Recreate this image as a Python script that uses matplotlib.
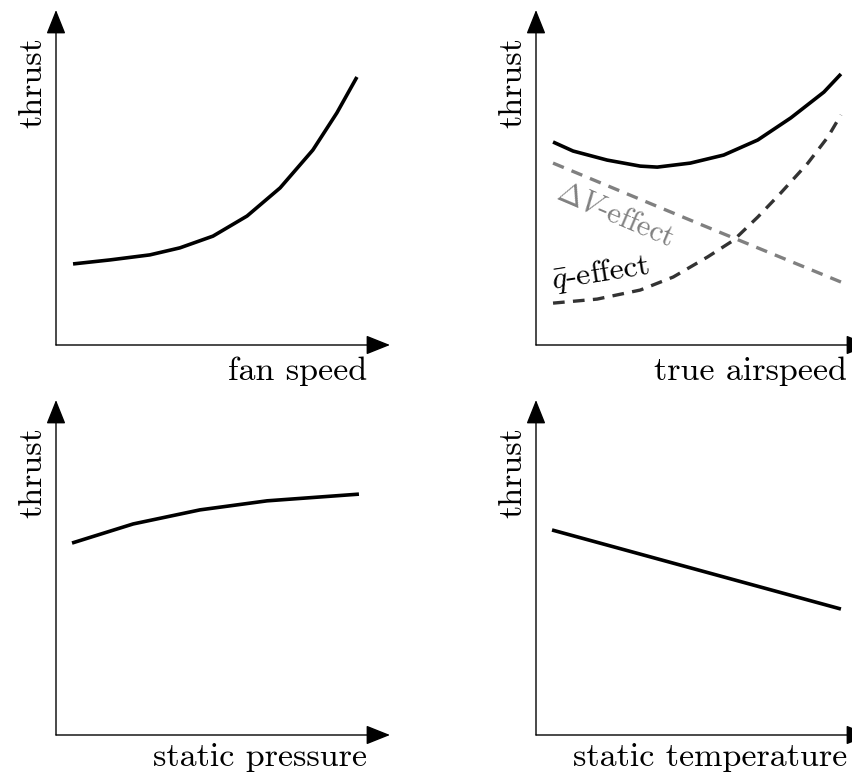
import matplotlib
matplotlib.use("Agg")
import matplotlib.pyplot as plt

plt.rcParams["font.family"] = "cmr10"
plt.rcParams["mathtext.fontset"] = "cm"
plt.rcParams["axes.unicode_minus"] = False

# curves, in fractions of each axis length (origin -> arrow tip)
fan_x = [0.051, 0.162, 0.281, 0.371, 0.470, 0.572, 0.671, 0.769, 0.841, 0.901]
fan_y = [0.242, 0.254, 0.269, 0.290, 0.325, 0.385, 0.469, 0.582, 0.693, 0.800]

tas_x = [0.051, 0.111, 0.213, 0.312, 0.363, 0.462, 0.562, 0.664, 0.763, 0.862, 0.913]
tas_y = [0.606, 0.579, 0.552, 0.534, 0.531, 0.543, 0.567, 0.612, 0.678, 0.755, 0.809]
q_x = [0.051, 0.183, 0.312, 0.411, 0.514, 0.592, 0.664, 0.733, 0.814, 0.874, 0.913]
q_y = [0.125, 0.137, 0.164, 0.203, 0.263, 0.313, 0.382, 0.454, 0.543, 0.621, 0.687]
dv_x = [0.051, 0.483, 0.913]
dv_y = [0.543, 0.364, 0.188]

p_x = [0.048, 0.231, 0.431, 0.632, 0.907]
p_y = [0.573, 0.630, 0.672, 0.699, 0.719]

t_x = [0.048, 0.913]
t_y = [0.612, 0.376]

xlabels = ["fan speed", "true airspeed", "static pressure", "static temperature"]
ylabel = "thrust"

W, H = 852, 773
fig = plt.figure(figsize=(W / 100, H / 100), dpi=100)

# origin of each panel in pixels; every panel is 334 x 335 px up to arrow tips
origins = [(56, 345), (536, 345), (56, 735), (536, 735)]
label_y = [-0.104, -0.104, -0.093, -0.093]
pw, ph = 334, 335
axes = []
for ox, oy in origins:
    ax = fig.add_axes([ox / W, 1 - oy / H, pw / W, ph / H])
    ax.set_xlim(0, 1)
    ax.set_ylim(0, 1)
    ax.axis("off")
    arrow = dict(arrowstyle="-|>,head_length=15,head_width=6", mutation_scale=1,
                 lw=1.0, color="black", shrinkA=0, shrinkB=0)
    ax.annotate("", xy=(1, 0), xytext=(0, 0), xycoords="axes fraction",
                arrowprops=arrow, annotation_clip=False)
    ax.annotate("", xy=(0, 1), xytext=(0, 0), xycoords="axes fraction",
                arrowprops=arrow, annotation_clip=False)
    axes.append(ax)

for ax, lab, ly in zip(axes, xlabels, label_y):
    ax.text(0.932, ly, lab, transform=ax.transAxes, ha="right",
            va="baseline", fontsize=24.5)
    ax.text(-0.069, 0.919, ylabel, transform=ax.transAxes, ha="center",
            va="top", rotation=90, fontsize=24.5)

lw = 2.6
axes[0].plot(fan_x, fan_y, color="black", lw=lw, solid_capstyle="butt")

axes[1].plot(tas_x, tas_y, color="black", lw=lw, solid_capstyle="butt")
axes[1].plot(dv_x, dv_y, color="#808080", lw=2.4, ls=(0, (3.5, 2.5)))
axes[1].plot(q_x, q_y, color="#333333", lw=2.4, ls=(0, (3.5, 2.5)))
axes[1].text(0.057, 0.440, r"$\Delta V$-effect", color="#808080", fontsize=22,
             rotation=-23, rotation_mode="anchor", ha="left", va="baseline")
axes[1].text(0.051, 0.167, r"$\bar{q}$-effect", color="black", fontsize=23,
             rotation=9, rotation_mode="anchor", ha="left", va="baseline")

axes[2].plot(p_x, p_y, color="black", lw=lw, solid_capstyle="butt")
axes[3].plot(t_x, t_y, color="black", lw=lw, solid_capstyle="butt")

fig.savefig("out.png", dpi=100)
